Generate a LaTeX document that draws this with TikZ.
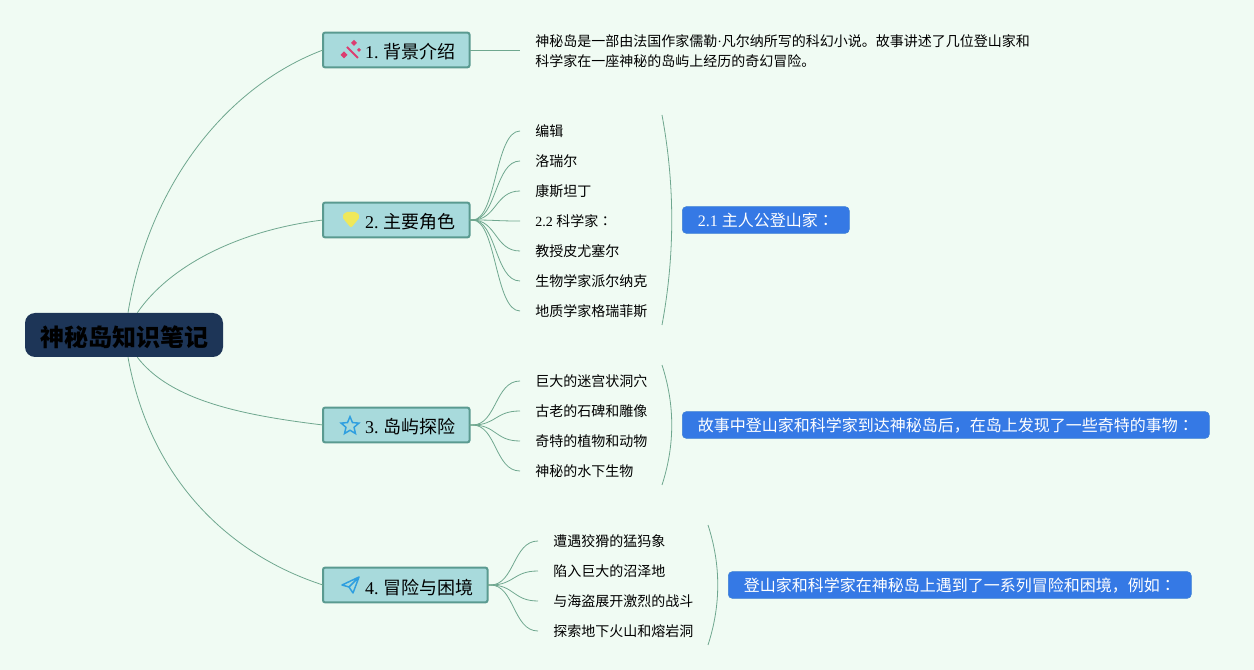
\documentclass[tikz,border=0pt]{standalone}
\usepackage{fontspec}
\setmainfont{Noto Sans CJK SC}
\newfontfamily\numfont{Liberation Serif}
\newfontfamily\colonfont{Noto Sans CJK TC}
\usetikzlibrary{shapes.geometric}

\definecolor{paper}{HTML}{F0FBF3}
\definecolor{rootfill}{HTML}{1D3557}
\definecolor{branchfill}{HTML}{A8DADC}
\definecolor{branchline}{HTML}{5A9A90}
\definecolor{linkline}{HTML}{6FA78F}
\definecolor{notefill}{HTML}{3579E5}

\tikzset{
	rootbox/.style = {fill = rootfill, rounded corners = 7.5pt, inner sep = 0, minimum width = 148.5pt, minimum height = 33pt, text height = 17.3pt, text depth = 0pt, font = \fontsize{18pt}{22pt}\selectfont\bfseries, text = black},
	branchbox/.style = {draw = branchline, line width = 1.5pt, outer sep = 0, fill = branchfill, rounded corners = 1.5pt, inner sep = 0, minimum height = 26pt, text height = 13.5pt, text depth = 0pt, anchor = west, font = \fontsize{13.5pt}{16pt}\selectfont, execute at begin node = {\hspace*{31.5pt}}, execute at end node = {\hspace*{10.5pt}}},
	storynode/.style = {anchor = west, inner ysep = 0, inner xsep = 11.25pt, font = \fontsize{10.5pt}{15pt}\selectfont},
	leafnode/.style = {storynode, text height = 9.24pt, text depth = 1.26pt},
	notebox/.style = {fill = notefill, draw = notefill!80!branchline, rounded corners = 3pt, inner sep = 0, minimum height = 20pt, text height = 10.56pt, text depth = 1.44pt, anchor = west, text = white, font = \fontsize{12pt}{14pt}\selectfont},
	link/.style = {draw = linkline, line width = 0.6pt},
}

\begin{document}
\begin{tikzpicture}[x = 0.75pt, y = -0.75pt]

	\useasboundingbox [fill = paper] (0, 0) rectangle (1254, 670);

	\node [rootbox] (root) at (124, 335) {\hspace{1.2pt}神秘岛知识笔记};

	\node [branchbox] (intro) at (323, 50) {{\numfont 1.\hspace{3.75pt}}背景介绍};
	\node [branchbox] (roles) at (323, 220) {{\numfont 2.\hspace{3.75pt}}主要角色};
	\node [branchbox] (island) at (323, 425) {{\numfont 3.\hspace{3.75pt}}岛屿探险};
	\node [branchbox] (trouble) at (323, 585) {{\numfont 4.\hspace{3.75pt}}冒险与困境};

	\draw [link] ([xshift = 3pt] root.north) .. controls (150, 180) and (230, 85) .. (intro.west);
	\draw [link] ([xshift = 10pt] root.north) .. controls (170, 265) and (240, 230) .. (roles.west);
	\draw [link] ([xshift = 10pt] root.south) .. controls (170, 400) and (240, 415) .. (island.west);
	\draw [link] ([xshift = 3pt] root.south) .. controls (150, 480) and (230, 555) .. (trouble.west);

	\node [storynode, align = left] (story) at (520, 51.5) {神秘岛是一部由法国作家儒勒{\numfont ·}凡尔纳所写的科幻小说。故事讲述了几位登山家和\\科学家在一座神秘的岛屿上经历的奇幻冒险。};
	\draw [link] (intro.east) -- (intro.east -| story.west);

	\foreach \name / \ypos / \leaftext in {
		r1/131/编辑, r2/161/洛瑞尔, r3/191/康斯坦丁, r4/221/{{\numfont 2.2 }科学家{\colonfont ：}},
		r5/251/教授皮尤塞尔, r6/281/生物学家派尔纳克, r7/311/地质学家格瑞菲斯} {
		\node [leafnode] (\name) at (520, \ypos) {\leaftext};
		\draw [link] (roles.east) -- +(3, 0) .. controls +(24, 0) and +(-25, 0) .. (\name.west);
	}

	\foreach \name / \ypos / \leaftext in {
		i1/381/巨大的迷宫状洞穴, i2/411/古老的石碑和雕像, i3/441/奇特的植物和动物, i4/471/神秘的水下生物} {
		\node [leafnode] (\name) at (520, \ypos) {\leaftext};
		\draw [link] (island.east) -- +(3, 0) .. controls +(24, 0) and +(-25, 0) .. (\name.west);
	}

	\foreach \name / \ypos / \leaftext in {
		t1/541/遭遇狡猾的猛犸象, t2/571/陷入巨大的沼泽地, t3/601/与海盗展开激烈的战斗, t4/631/探索地下火山和熔岩洞} {
		\node [leafnode] (\name) at (538, \ypos) {\leaftext};
		\draw [link] (trouble.east) -- +(3, 0) .. controls +(24, 0) and +(-25, 0) .. (\name.west);
	}

	\node [notebox, minimum width = 125.25pt] (hero) at (682, 220) {{\numfont 2.1 }主人公登山家{\colonfont ：}};
	\node [notebox, minimum width = 395.25pt] (found) at (682, 425) {故事中登山家和科学家到达神秘岛后，在岛上发现了一些奇特的事物{\colonfont ：}};
	\node [notebox, minimum width = 347.25pt] (peril) at (728, 585) {登山家和科学家在神秘岛上遇到了一系列冒险和困境，例如{\colonfont ：}};

	\coordinate (a1) at (662, 115);
	\coordinate (a2) at (662, 325);
	\coordinate (b1) at (662, 365);
	\coordinate (b2) at (662, 485);
	\coordinate (c1) at (708, 525);
	\coordinate (c2) at (708, 645);

	\draw [link] (a1) .. controls (675, 185) and (675, 255) .. (a2);
	\draw [link] (b1) .. controls (675, 405) and (675, 445) .. (b2);
	\draw [link] (c1) .. controls (721, 565) and (721, 605) .. (c2);

	% icons
	\definecolor{wandpink}{HTML}{DC3D70}
	\definecolor{gemyellow}{HTML}{EFE85A}
	\definecolor{starblue}{HTML}{2F9FE0}
	\draw [wandpink, line width = 1.4pt] (347, 47) -- (358, 58);
	\foreach \xpos / \ypos / \size in {354/43/3, 344/55/3.5, 359/50/2}
		\fill [wandpink] (\xpos - \size, \ypos) -- (\xpos, \ypos - \size) -- (\xpos + \size, \ypos) -- (\xpos, \ypos + \size) -- cycle;
	\fill [gemyellow, rounded corners = 1.5pt] (345, 212) -- (357, 212) -- (360, 217) -- (351, 228) -- (342, 217) -- cycle;
	\node [star, star points = 5, star point ratio = 2.2, draw = starblue, line width = 1.1pt, inner sep = 0, minimum size = 14pt] at (350, 426) {};
	\draw [starblue, line width = 1.1pt, line join = round] (342, 585) -- (359, 577) -- (353, 593) -- (349, 587) -- cycle (349, 587) -- (359, 577);

\end{tikzpicture}
\end{document}
